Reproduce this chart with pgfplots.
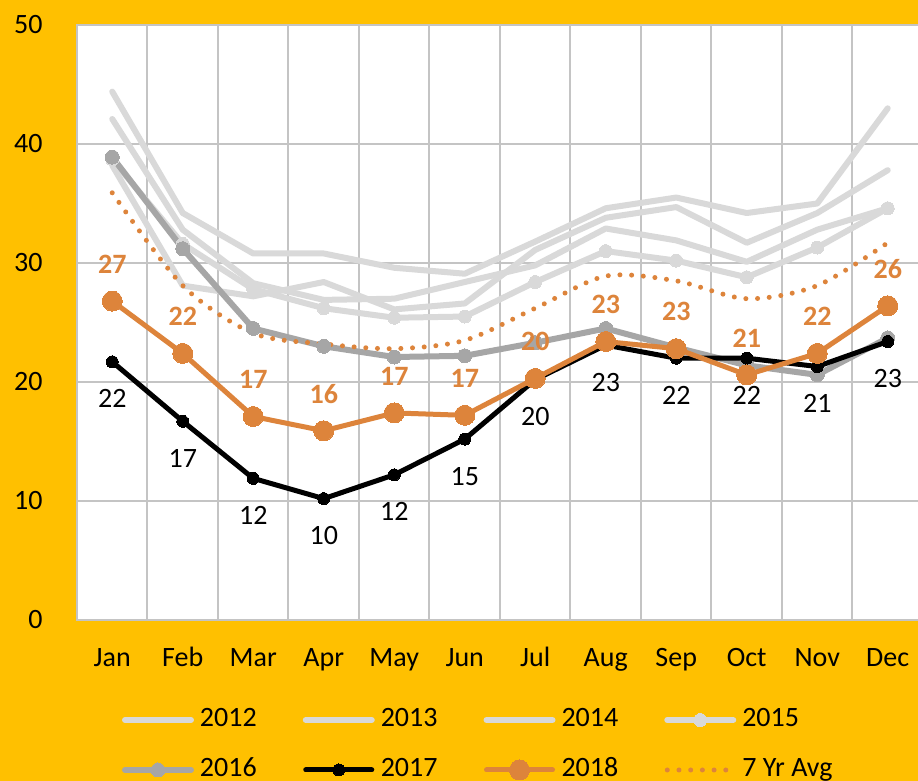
\documentclass[border=0pt]{standalone}
\usepackage{fontspec}
\setmainfont{Carlito}
\usepackage{pgfplots}
\pgfplotsset{compat=1.18}
\definecolor{bgY}{RGB}{255,192,0}
\definecolor{lg}{RGB}{217,217,217}
\definecolor{mg}{RGB}{166,166,166}
\definecolor{org}{RGB}{221,132,59}
\definecolor{gridc}{RGB}{196,196,196}
\begin{document}
\fontsize{14}{17}\selectfont
\begin{tikzpicture}
\fill[bgY] (-38.5pt,-80.5pt) rectangle (420.5pt,310pt);
\begin{axis}[
 at={(0pt,0pt)}, anchor=south west,
 scale only axis, width=423pt, height=297.5pt,
 xmin=0, xmax=12, ymin=0, ymax=50,
 axis background/.style={fill=white},
 axis line style={gridc, line width=1pt},
 xtick={0.5,1.5,...,11.5},
 xticklabels={Jan,Feb,Mar,Apr,May,Jun,Jul,Aug,Sep,Oct,Nov,Dec},
 minor xtick={1,2,...,11},
 xminorgrids=true,
 ytick={0,10,...,50},
 ymajorgrids=true,
 grid style={gridc, line width=1pt},
 minor grid style={gridc, line width=1pt},
 major tick length=0pt, minor tick length=0pt,
 xticklabel style={anchor=base, inner sep=0pt, yshift=-23.5pt},
 yticklabel style={anchor=east, inner sep=0pt, xshift=-17pt},
 /pgf/number format/assume math mode=true,
 legend columns=4,
 legend cell align=left,
 legend style={draw=none, fill=none, inner sep=0pt, outer sep=0pt,
   at={(0,0)}, anchor=north west, xshift=22.5pt, yshift=-43.5pt,
   /tikz/every odd column/.append style={column sep=3pt},
   /tikz/every even column/.append style={column sep=23pt},
   nodes={inner sep=0pt, text height=10pt, text depth=3pt},
   row sep=12pt},
 legend image code/.code={\draw[mark repeat=2,mark phase=2,#1] plot coordinates {(1.5pt,0pt) (18pt,0pt) (34.5pt,0pt)};},
 every axis plot/.append style={line cap=round, line join=round},
]
\addplot[lg, line width=3pt] coordinates {(0.5,44.4) (1.5,34.2) (2.5,30.8) (3.5,30.8) (4.5,29.6) (5.5,29.1) (6.5,31.8) (7.5,34.6) (8.5,35.5) (9.5,34.2) (10.5,35.0) (11.5,43.0)};
\addlegendentry{2012}
\addplot[lg, line width=3pt] coordinates {(0.5,42.1) (1.5,32.8) (2.5,28.3) (3.5,26.9) (4.5,27.0) (5.5,28.4) (6.5,29.8) (7.5,32.9) (8.5,31.9) (9.5,30.1) (10.5,32.8) (11.5,34.6)};
\addlegendentry{2013}
\addplot[lg, line width=3pt] coordinates {(0.5,38.2) (1.5,28.1) (2.5,27.2) (3.5,28.4) (4.5,26.1) (5.5,26.6) (6.5,31.1) (7.5,33.8) (8.5,34.7) (9.5,31.7) (10.5,34.2) (11.5,37.8)};
\addlegendentry{2014}
\addplot[lg, line width=3pt, mark=*, mark size=3.25pt, mark options={fill=lg, draw=lg, line width=0pt}] coordinates {(0.5,38.7) (1.5,31.6) (2.5,27.8) (3.5,26.2) (4.5,25.4) (5.5,25.5) (6.5,28.4) (7.5,31.0) (8.5,30.2) (9.5,28.8) (10.5,31.3) (11.5,34.6)};
\addlegendentry{2015}
\addplot[mg, line width=3pt, mark=*, mark size=3.5pt, mark options={fill=mg, draw=mg, line width=0pt}] coordinates {(0.5,38.9) (1.5,31.2) (2.5,24.5) (3.5,23.0) (4.5,22.1) (5.5,22.2) (6.5,23.3) (7.5,24.5) (8.5,22.9) (9.5,21.4) (10.5,20.6) (11.5,23.7)};
\addlegendentry{2016}
\addplot[black, line width=2.5pt, mark=*, mark size=3pt, mark options={fill=black, draw=black, line width=0pt},
  nodes near coords, point meta=explicit symbolic,
  nodes near coords align={anchor=center},
  every node near coord/.append style={black, anchor=center, yshift=-18.5pt}] coordinates {(0.5,21.7) [22] (1.5,16.7) [17] (2.5,11.9) [12] (3.5,10.2) [10] (4.5,12.2) [12] (5.5,15.2) [15] (6.5,20.2) [20] (7.5,23.1) [23] (8.5,22.0) [22] (9.5,22.0) [22] (10.5,21.3) [21] (11.5,23.4) [23]};
\addlegendentry{2017}
\addplot[org, line width=2.5pt, mark=*, mark size=5pt, mark options={fill=org, draw=org, line width=0pt},
  nodes near coords, point meta=explicit symbolic,
  nodes near coords align={anchor=center},
  every node near coord/.append style={org, font=\bfseries, anchor=center, yshift=18.5pt}] coordinates {(0.5,26.8) [27] (1.5,22.4) [22] (2.5,17.1) [17] (3.5,15.9) [16] (4.5,17.4) [17] (5.5,17.2) [17] (6.5,20.3) [20] (7.5,23.4) [23] (8.5,22.8) [23] (9.5,20.6) [21] (10.5,22.4) [22] (11.5,26.4) [26]};
\addlegendentry{2018}
\addplot[org, line width=2.5pt, dash pattern=on 0pt off 5.85pt, smooth, tension=0.5] coordinates {(0.5,35.9) (1.5,28.1) (2.5,24.1) (3.5,23.2) (4.5,22.8) (5.5,23.5) (6.5,26.2) (7.5,28.9) (8.5,28.5) (9.5,27.0) (10.5,28.1) (11.5,31.7)};
\addlegendentry{7 Yr Avg}
\end{axis}
\pgfresetboundingbox
\path[use as bounding box] (-38.5pt,-80.5pt) rectangle (420.5pt,310pt);
\end{tikzpicture}
\end{document}
